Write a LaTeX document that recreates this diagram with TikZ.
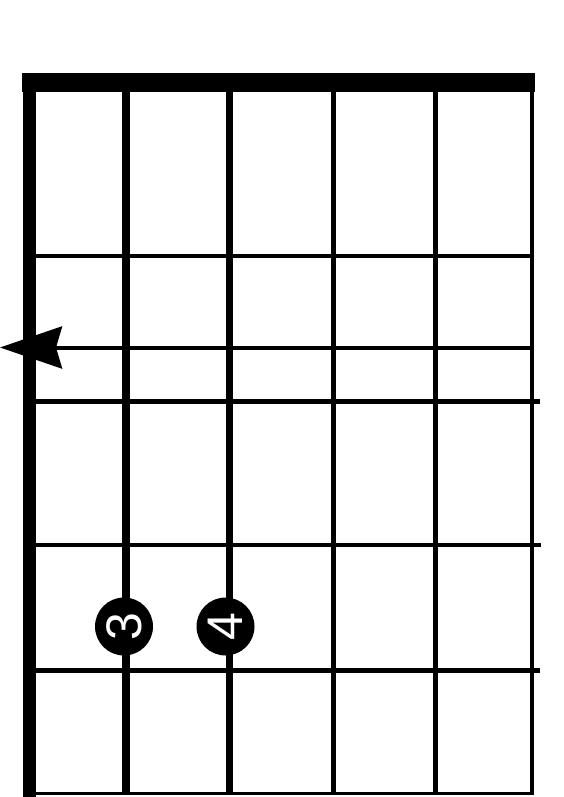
\documentclass[tikz,border=0pt]{standalone}
\usepackage{fontspec}
\setmainfont{Liberation Sans}
\usetikzlibrary{arrows.meta}
\begin{document}
\begin{tikzpicture}[x=1pt,y=-1pt,
  fret/.style={line width=4.5pt},
  string/.style={line width=#1},
  finger/.style={circle,fill=black,minimum size=58pt,inner sep=0pt,text=white,
    font=\fontsize{50}{50}\selectfont,rotate=90}]
\useasboundingbox (0,0) rectangle (563,797);
% nut
\fill (22,73) rectangle (535,92);
% strings
\coordinate (s1t) at (29,80);    \coordinate (s1b) at (29,797);
\coordinate (s2t) at (125.5,90); \coordinate (s2b) at (125.5,795);
\coordinate (s3t) at (229,90);   \coordinate (s3b) at (229,795);
\coordinate (s4t) at (333.5,90); \coordinate (s4b) at (333.5,795);
\coordinate (s5t) at (435.5,90); \coordinate (s5b) at (435.5,795);
\coordinate (s6t) at (532,90);   \coordinate (s6b) at (532,795);
\draw[string=13pt] (s1t) -- (s1b);
\draw[string=8pt] (s2t) -- (s2b);
\draw[string=7pt] (s3t) -- (s3b);
\draw[string=5.5pt] (s4t) -- (s4b);
\draw[string=4.5pt] (s5t) -- (s5b);
\draw[string=4pt] (s6t) -- (s6b);
% frets
\coordinate (f1l) at (35,256);  \coordinate (f1r) at (534,256);
\coordinate (f2l) at (35,401.5);\coordinate (f2r) at (540,401.5);
\coordinate (f3l) at (35,545);  \coordinate (f3r) at (541,545);
\coordinate (f4l) at (35,670.5);\coordinate (f4r) at (540,670.5);
\coordinate (f5l) at (23,793.5);\coordinate (f5r) at (534,793.5);
\draw[fret] (f1l) -- (f1r);
\draw[fret] (f2l) -- (f2r);
\draw[fret] (f3l) -- (f3r);
\draw[fret] (f4l) -- (f4r);
\draw[line width=3.5pt] (f5l) -- (f5r);
% arrow marker
\coordinate (ar) at (533,347.5);
\coordinate (tip) at (0,347.5);
\draw[line width=4pt,-{Stealth[length=62pt,width=42pt,inset=6pt]}] (ar) -- (tip);
% fingers
\node[finger] (n3) at (124,626.5) {3};
\node[finger] (n4) at (225.5,626.5) {4};
\end{tikzpicture}
\end{document}
